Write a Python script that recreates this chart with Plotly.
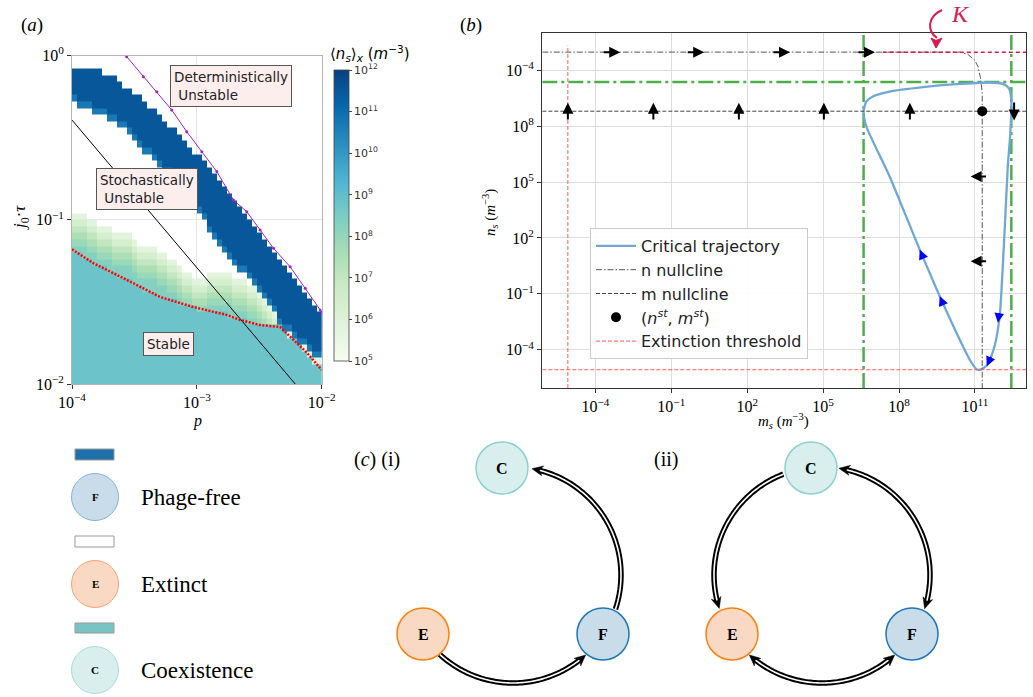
import numpy as np
import plotly.graph_objects as go

W, H = 1033, 697
SERIF = "Liberation Serif, DejaVu Serif, serif"
SANS = "DejaVu Sans, Noto Sans, sans-serif"

# ---------------- panel (a): stability map ----------------
LOG_P_MIN, LOG_P_MAX = -4.0, -2.0
LOG_J_MIN, LOG_J_MAX = -2.0, 0.0
N_CELLS = 50

# phage-free band, upper and lower edges (log10 p, log10 j0*tau)
BAND_TOP_LP = [-4.0, -3.896, -3.800, -3.695, -3.559, -3.431, -3.295, -3.158, -3.030,
               -2.894, -2.758, -2.629, -2.493, -2.389, -2.253, -2.132, -2.0]
BAND_TOP_LJ = [-0.058, -0.070, -0.088, -0.119, -0.192, -0.271, -0.374, -0.472, -0.575,
               -0.679, -0.825, -0.953, -1.093, -1.202, -1.318, -1.446, -1.574]
BAND_BOT_LP = [-4.0, -3.880, -3.800, -3.695, -3.559, -3.431, -3.295, -3.158, -3.054,
               -2.974, -2.894, -2.814, -2.709, -2.629, -2.549, -2.469, -2.389, -2.333,
               -2.253, -2.172, -2.092, -2.0]
BAND_BOT_LJ = [-0.289, -0.320, -0.350, -0.393, -0.472, -0.575, -0.679, -0.776, -0.880,
               -0.971, -1.081, -1.178, -1.263, -1.324, -1.409, -1.470, -1.549, -1.641,
               -1.689, -1.750, -1.805, -1.866]
# upper edge of the coexistence region
COEX_TOP_LP = [-4.0, -3.936, -3.880, -3.832, -3.776, -3.695, -3.639, -3.559, -3.495,
               -3.415, -3.295, -3.214, -3.134, -3.054, -2.974, -2.894, -2.814, -2.733,
               -2.653, -2.573, -2.493, -2.413, -2.333, -2.253, -2.172, -2.092, -2.0]
COEX_TOP_LJ = [-0.953, -0.953, -0.989, -1.014, -1.026, -1.038, -1.075, -1.081, -1.123,
               -1.166, -1.184, -1.227, -1.275, -1.336, -1.355, -1.336, -1.324, -1.336,
               -1.349, -1.385, -1.428, -1.476, -1.62, -1.67, -1.73, -1.79, -1.85]
# stochastic stability boundary (red dotted)
RED_LP = [-4.0, -3.832, -3.559, -3.295, -3.030, -2.758, -2.653, -2.493, -2.333,
          -2.228, -2.116, -2.0]
RED_LJ = [-1.18, -1.263, -1.367, -1.470, -1.531, -1.580, -1.610, -1.641, -1.653,
          -1.732, -1.811, -1.915]
# deterministic stability boundary (magenta)
DET_LP = [-3.562, -3.428, -3.321, -3.201, -3.081, -2.960, -2.840, -2.707, -2.600,
          -2.493, -2.386, -2.253, -2.132, -2.012, -2.0]
DET_LJ = [-0.007, -0.129, -0.220, -0.332, -0.464, -0.586, -0.707, -0.880, -0.951,
          -1.062, -1.174, -1.286, -1.417, -1.549, -1.562]
# black reference line
STOCH_LP = [-4.0, -2.212]
STOCH_LJ = [-0.393, -2.0]

# log10 <n_s>_x levels of each region
BAND_LEVEL = 11.5
BAND_EDGE_LEVEL = 10.7
COEX_LEVEL = 8.8
FADE_LEVELS = [5.8, 6.4, 7.0, 7.5, 7.9, 8.3]

edges_p = np.linspace(LOG_P_MIN, LOG_P_MAX, N_CELLS + 1)
edges_j = np.linspace(LOG_J_MIN, LOG_J_MAX, N_CELLS + 1)
cen_p = 0.5 * (edges_p[:-1] + edges_p[1:])
cen_j = 0.5 * (edges_j[:-1] + edges_j[1:])
step = (LOG_J_MAX - LOG_J_MIN) / N_CELLS

z = np.full((N_CELLS, N_CELLS), np.nan)
for i, lp in enumerate(cen_p):
    bt = np.interp(lp, BAND_TOP_LP, BAND_TOP_LJ)
    bb = np.interp(lp, BAND_BOT_LP, BAND_BOT_LJ)
    ct = min(np.interp(lp, COEX_TOP_LP, COEX_TOP_LJ), bb)
    rl = np.interp(lp, RED_LP, RED_LJ)
    for k, lj in enumerate(cen_j):
        if bb <= lj <= bt:
            z[k, i] = BAND_EDGE_LEVEL if lj - step < bb else BAND_LEVEL
        elif lj <= ct:
            if lj <= rl:
                z[k, i] = COEX_LEVEL
            else:
                r = int((ct - lj) / step)
                z[k, i] = FADE_LEVELS[min(r, len(FADE_LEVELS) - 1)]

# ---------------- panel (b): phase portrait (log10 values) ----------------
TRAJ_LOG_M = [11.08, 10.79, 10.27, 9.61, 8.82, 7.63, 6.71, 6.6,
              6.71, 6.97, 7.63, 8.95, 10.27, 11.58, 12.1, 12.34, 12.44,
              12.40, 12.30, 12.17, 11.98, 11.78, 11.51, 11.25, 11.08]
TRAJ_LOG_N = [-5.06, -4.52, -3.09, -1.13, 1.37, 5.30, 7.98, 8.8,
              9.32, 9.59, 9.85, 10.09, 10.25, 10.34, 10.27, 10.04, 9.41,
              7.63, 5.84, 2.27, -2.2, -3.8, -4.78, -5.05, -5.06]
N_NULL_LOG_M = [-6.1, 10.4, 10.72, 10.99, 11.12, 11.22, 11.29, 11.29]
N_NULL_LOG_N = [11.97, 11.97, 11.85, 11.55, 11.2, 10.6, 9.8, -6.1]
M_NULL_LOG_N = 8.8
STEADY_LOG_M, STEADY_LOG_N = 11.29, 8.8
EXT_LOG = -5.09
K_LOG_N = 11.97
K_LINE_START_LOG_M = 7.36
GREEN_LOG_M = [6.6, 12.44]
GREEN_LOG_N = 10.37

FLOW_RIGHT_HEAD_LOG_M = [-3.02, 0.30, 3.69, 7.05]
FLOW_UP_LOG_M = [-5.09, -1.71, 1.67, 5.03, 8.43]
FLOW_DOWN_LOG_M = [12.55]
FLOW_LEFT_LOG_N = [5.3, 0.75]
TRAJ_ARROW_HEAD = [(8.82, 1.37), (9.61, -1.13), (11.91, -2.55), (11.47, -4.88)]
TRAJ_ARROW_TAIL = [(8.97, 0.89), (9.76, -1.62), (11.97, -1.95), (11.66, -4.30)]

XB_RANGE = [-6.1, 13.02]
YB_RANGE = [-6.05, 12.98]
B_TICKS = [-4, -1, 2, 5, 8, 11]
B_XTICKTEXT = ["10<sup>−4</sup>", "10<sup>−1</sup>", "10<sup>2</sup>", "10<sup>5</sup>",
               "10<sup>8</sup>", "10<sup>11</sup>"]
B_YTICKTEXT = ["10<sup>−4</sup>", "10<sup>−1</sup>", "10<sup>2</sup>", "10<sup>5</sup>",
               "10<sup>8</sup>", "10<sup>−4</sup>"]


def P(v):
    return [10.0 ** x if x is not None else None for x in v]


def X(px):
    return px / W


def Y(py):
    return 1 - py / H


fig = go.Figure()

# --- (a) heatmap
fig.add_trace(go.Heatmap(
    x=10.0 ** edges_p, y=10.0 ** edges_j, z=z, colorscale="GnBu", zmin=5, zmax=12,
    xaxis="x", yaxis="y", hoverinfo="skip", showlegend=False,
    colorbar=dict(
        x=X(334), xanchor="left", xpad=0, y=Y(70), yanchor="top", ypad=0,
        thickness=15, lenmode="pixels", len=291, outlinewidth=0.8, outlinecolor="#444",
        tickvals=list(range(5, 13)),
        ticktext=["10<sup>%d</sup>" % v for v in range(5, 13)],
        ticks="outside", ticklen=3, tickcolor="#444",
        tickfont=dict(family=SANS, size=11, color="#333"),
    ),
))
fig.add_trace(go.Scatter(x=P(STOCH_LP), y=P(STOCH_LJ), mode="lines",
                         line=dict(color="black", width=1), xaxis="x", yaxis="y",
                         showlegend=False, hoverinfo="skip"))
fig.add_trace(go.Scatter(x=P(RED_LP), y=P(RED_LJ), mode="lines",
                         line=dict(color="red", width=2.5, dash="2px,1.5px"),
                         xaxis="x", yaxis="y", showlegend=False, hoverinfo="skip"))
fig.add_trace(go.Scatter(x=P(DET_LP), y=P(DET_LJ), mode="lines+markers",
                         line=dict(color="#a020c0", width=1),
                         marker=dict(size=3, color="#a020c0"),
                         xaxis="x", yaxis="y", showlegend=False, hoverinfo="skip"))

# --- (b) phase portrait
gdash = "15px,4px,3px,4px"
for gm in GREEN_LOG_M:
    fig.add_trace(go.Scatter(x=P([gm, gm]), y=P(YB_RANGE), mode="lines",
                             line=dict(color="#4daf4a", width=2.5, dash=gdash),
                             xaxis="x2", yaxis="y2", showlegend=False, hoverinfo="skip"))
fig.add_trace(go.Scatter(x=P(XB_RANGE), y=P([GREEN_LOG_N, GREEN_LOG_N]), mode="lines",
                         line=dict(color="#4daf4a", width=2.5, dash=gdash),
                         xaxis="x2", yaxis="y2", showlegend=False, hoverinfo="skip"))

fig.add_trace(go.Scatter(x=P(TRAJ_LOG_M), y=P(TRAJ_LOG_N), mode="lines",
                         line=dict(color="#6fa8d6", width=2.3, shape="spline", smoothing=0.6),
                         name="Critical trajectory", xaxis="x2", yaxis="y2"))
fig.add_trace(go.Scatter(x=P(N_NULL_LOG_M), y=P(N_NULL_LOG_N), mode="lines",
                         line=dict(color="#555555", width=1, dash="6px,2px,1.5px,2px"),
                         name="n nullcline", xaxis="x2", yaxis="y2"))
fig.add_trace(go.Scatter(x=P(XB_RANGE), y=P([M_NULL_LOG_N, M_NULL_LOG_N]), mode="lines",
                         line=dict(color="#444444", width=1, dash="4px,2px"),
                         name="m nullcline", xaxis="x2", yaxis="y2"))
fig.add_trace(go.Scatter(x=P([STEADY_LOG_M]), y=P([STEADY_LOG_N]), mode="markers",
                         marker=dict(color="black", size=10),
                         name="(<i>n<sup>st</sup></i>, <i>m<sup>st</sup></i>)",
                         xaxis="x2", yaxis="y2"))
fig.add_trace(go.Scatter(x=P([EXT_LOG, EXT_LOG, None, XB_RANGE[0], XB_RANGE[1]]),
                         y=P([YB_RANGE[0], 12.32, None, EXT_LOG + 0.02, EXT_LOG + 0.02]),
                         mode="lines", connectgaps=False,
                         line=dict(color="#ff5a5a", width=1, dash="4px,2px"),
                         name="Extinction threshold", xaxis="x2", yaxis="y2"))
fig.add_trace(go.Scatter(x=P([K_LINE_START_LOG_M, XB_RANGE[1]]), y=P([K_LOG_N, K_LOG_N]),
                         mode="lines", line=dict(color="#d81b50", width=1.5, dash="4px,3px"),
                         xaxis="x2", yaxis="y2", showlegend=False, hoverinfo="skip"))

annotations = []


def arrow(xh, yh, xt, yt, color="black", width=2.0, size=1.1):
    annotations.append(dict(
        x=xh, y=yh, ax=xt, ay=yt, xref="x2", yref="y2", axref="x2", ayref="y2",
        showarrow=True, text="", arrowhead=2, arrowsize=size, arrowwidth=width,
        arrowcolor=color, standoff=0, startstandoff=0))


for hm in FLOW_RIGHT_HEAD_LOG_M:
    arrow(hm, K_LOG_N, hm - 0.71, K_LOG_N)
for um in FLOW_UP_LOG_M:
    arrow(um, 9.26, um, 8.28)
for dm in FLOW_DOWN_LOG_M:
    arrow(dm, 8.30, dm, 9.35)
for ln in FLOW_LEFT_LOG_N:
    arrow(10.83, ln, 11.5, ln)
for (hx, hy), (tx, ty) in zip(TRAJ_ARROW_HEAD, TRAJ_ARROW_TAIL):
    arrow(hx, hy, tx, ty, color="blue", width=1.6, size=1.2)


def text(px, py, s, size, family=SERIF, color="black", angle=0, xanchor="center", **kw):
    d = dict(x=X(px), y=Y(py), xref="paper", yref="paper", text=s, showarrow=False,
             font=dict(family=family, size=size, color=color), textangle=angle,
             xanchor=xanchor, yanchor="middle")
    d.update(kw)
    annotations.append(d)


# panel titles and axis labels
text(32, 25, "(<i>a</i>)", 19)
text(471, 25, "(<i>b</i>)", 19)
text(197, 421, "<i>p</i>", 16)
text(21, 218, "<i>j</i><sub>0</sub>·<i>τ</i>", 17, angle=-90)
text(490, 213, "<i>n<sub>s</sub></i> (<i>m</i><sup>−3</sup>)", 15, angle=-90)
text(783, 421, "<i>m<sub>s</sub></i> (<i>m</i><sup>−3</sup>)", 15)
text(370, 53, "⟨<i>n<sub>s</sub></i>⟩<sub><i>x</i></sub> (<i>m</i><sup>−3</sup>)", 15, family=SANS)
text(960, 14, "<i>K</i>", 24, color="#d81b50")

# region labels in (a)
box = dict(bgcolor="#fdeeee", bordercolor="#555555", borderwidth=1, borderpad=3, align="left")
text(231, 85.5, "Deterministically<br> Unstable", 13.5, family=SANS, color="#222", **box)
text(146.5, 189.5, "Stochastically<br> Unstable", 13.5, family=SANS, color="#222", **box)
text(168, 344, "Stable", 13.5, family=SANS, color="#222", **box)

# ---------------- panel (c): state legend and transition diagrams ----------------
shapes = []
NODE_STYLE = {
    "F": ("#c9dcea", "#1f77b4"),
    "E": ("#f9d9c4", "#ff7f0e"),
    "C": ("#d9efee", "#8fd0d0"),
}
KEY_STYLE = {
    "F": ("#c9dcea", "#86b3d8"),
    "E": ("#f9d9c4", "#f4a470"),
    "C": ("#d9efee", "#a8dcdc"),
}


def circle(cx, cy, r, fill, line, lw=1.5):
    shapes.append(dict(type="circle", xref="paper", yref="paper",
                       x0=X(cx - r), x1=X(cx + r), y0=Y(cy + r), y1=Y(cy - r),
                       fillcolor=fill, line=dict(color=line, width=lw), layer="above"))


def rect(x0, y0, x1, y1, fill, line):
    shapes.append(dict(type="rect", xref="paper", yref="paper",
                       x0=X(x0), x1=X(x1), y0=Y(y1), y1=Y(y0),
                       fillcolor=fill, line=dict(color=line, width=1), layer="above"))


def path_of(pts, close=False):
    s = "M " + " L ".join("%.5f,%.5f" % (X(px), Y(py)) for px, py in pts)
    return s + (" Z" if close else "")


def arrow_head(tip, direction, length=11, half=5):
    d = np.asarray(direction, float)
    d = d / np.hypot(*d)
    n = np.array([-d[1], d[0]])
    tip = np.asarray(tip, float)
    base = tip - d * length
    notch = tip - d * length * 0.7
    pts = [tip, base + n * half, notch, base - n * half]
    shapes.append(dict(type="path", xref="paper", yref="paper", path=path_of(pts, True),
                       fillcolor="black", line=dict(color="black", width=0.5), layer="above"))


def double_arc(cx, cy, r, a0, a1, head_start=False, head_end=True):
    t = np.radians(np.linspace(a0, a1, 80))
    xs, ys = cx + r * np.cos(t), cy + r * np.sin(t)
    trim = np.degrees(7.0 / r) * np.sign(a1 - a0)
    s0 = a0 + trim if head_start else a0
    s1 = a1 - trim if head_end else a1
    tt = np.radians(np.linspace(s0, s1, 80))
    pts = list(zip(cx + r * np.cos(tt), cy + r * np.sin(tt)))
    for col, wd in (("black", 5.5), ("white", 1.6)):
        shapes.append(dict(type="path", xref="paper", yref="paper", path=path_of(pts),
                           line=dict(color=col, width=wd), layer="above"))
    if head_end:
        arrow_head((xs[-1], ys[-1]), (xs[-1] - xs[-3], ys[-1] - ys[-3]))
    if head_start:
        arrow_head((xs[0], ys[0]), (xs[0] - xs[2], ys[0] - ys[2]))


# key on the left
rect(75, 449, 114, 460, "#2070ab", "#999999")
rect(75, 536, 114, 547, "white", "#999999")
rect(75, 623, 114, 633, "#78c4c4", "#999999")
for lab, cy, name in (("F", 497, "Phage-free"), ("E", 584, "Extinct"), ("C", 670, "Coexistence")):
    circle(95, cy, 23.5, *KEY_STYLE[lab], lw=1)
    text(95, cy, "<b>%s</b>" % lab, 11)
    text(139, cy, name, 23, xanchor="left")

text(377, 459, "(<i>c</i>) (i)", 20)
text(666, 459, "(ii)", 20)

# diagram (i)
NODES_I = {"C": (502, 468), "E": (423, 634), "F": (603, 634)}
double_arc(513, 575, 108, 132.8, 47.7)
double_arc(513, 575, 108, 18.4, -79.9)
# diagram (ii)
NODES_II = {"C": (811, 468), "E": (732, 634), "F": (912, 634)}
double_arc(822, 575, 108, 249.0, 162.0)
double_arc(822, 575, 108, -81.0, 18.2, head_start=True)
double_arc(822, 575, 108, 132.3, 47.7, head_start=True)
for nodes in (NODES_I, NODES_II):
    for lab, (cx, cy) in nodes.items():
        circle(cx, cy, 26, *NODE_STYLE[lab])
        text(cx, cy, "<b>%s</b>" % lab, 16)

# curved pointer to the K line
shapes.append(dict(type="path", xref="paper", yref="paper",
                   path="M %.5f,%.5f C %.5f,%.5f %.5f,%.5f %.5f,%.5f" % (
                       X(942), Y(10), X(927), Y(17), X(927), Y(31), X(937), Y(38)),
                   line=dict(color="#d81b50", width=2), layer="above"))
shapes_k_tip = [(936, 48), (931, 38), (936, 40.5), (942, 38)]
shapes.append(dict(type="path", xref="paper", yref="paper", path=path_of(shapes_k_tip, True),
                   fillcolor="#d81b50", line=dict(color="#d81b50", width=1), layer="above"))

axis_a = dict(type="log", showgrid=True, gridcolor="#e3e3e3", zeroline=False,
              showline=True, linecolor="#b5b5b5", linewidth=1, mirror=True,
              ticks="outside", ticklen=4, tickcolor="#333", automargin=False,
              tickfont=dict(family=SERIF, size=16, color="black"))
axis_b = dict(type="log", showgrid=True, gridcolor="#dddddd", zeroline=False,
              showline=True, linecolor="#333333", linewidth=1.3, mirror=True,
              ticks="outside", ticklen=4, tickcolor="#333", automargin=False,
              tickfont=dict(family=SERIF, size=16, color="black"))

fig.update_layout(
    width=W, height=H, margin=dict(l=0, r=0, t=0, b=0, autoexpand=False),
    paper_bgcolor="white", plot_bgcolor="white",
    xaxis=dict(axis_a, domain=[X(72), X(321.7)], range=[LOG_P_MIN, LOG_P_MAX],
               tickvals=[1e-4, 1e-3, 1e-2],
               ticktext=["10<sup>−4</sup>", "10<sup>−3</sup>", "10<sup>−2</sup>"], anchor="y"),
    yaxis=dict(axis_a, domain=[Y(384), Y(55.5)], range=[LOG_J_MIN, LOG_J_MAX],
               tickvals=[1e-2, 1e-1, 1],
               ticktext=["10<sup>−2</sup>", "10<sup>−1</sup>", "10<sup>0</sup>"], anchor="x"),
    xaxis2=dict(axis_b, domain=[X(542.3), X(1026)], range=XB_RANGE,
                tickvals=[10.0 ** v for v in B_TICKS], ticktext=B_XTICKTEXT, anchor="y2"),
    yaxis2=dict(axis_b, domain=[Y(388), Y(33.3)], range=YB_RANGE,
                tickvals=[10.0 ** v for v in B_TICKS], ticktext=B_YTICKTEXT, anchor="x2"),
    legend=dict(x=X(590), y=Y(228), xanchor="left", yanchor="top",
                bgcolor="rgba(255,255,255,0.9)", bordercolor="#cccccc", borderwidth=1,
                font=dict(family=SANS, size=16, color="#222"), itemwidth=40,
                tracegroupgap=0),
    annotations=annotations,
    shapes=shapes,
)

fig.write_html("out.html")
